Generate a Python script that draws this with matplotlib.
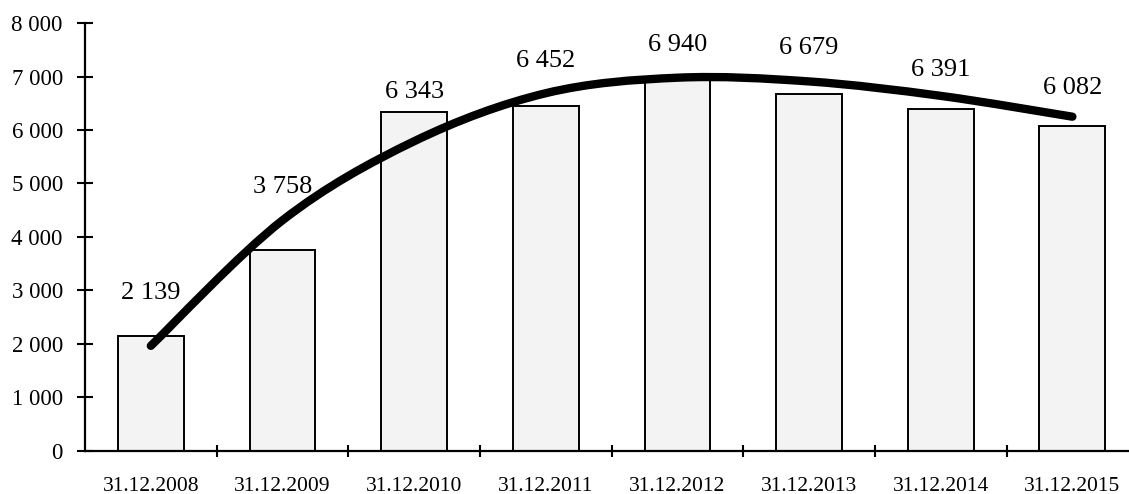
import matplotlib.pyplot as plt
from matplotlib.path import Path
from matplotlib.patches import PathPatch

# data
dates = ['31.12.2008', '31.12.2009', '31.12.2010', '31.12.2011',
         '31.12.2012', '31.12.2013', '31.12.2014', '31.12.2015']
values = [2139, 3758, 6343, 6452, 6940, 6679, 6391, 6082]
# hand-drawn trend curve at each date
trend = [1960, 4310, 5790, 6690, 6980, 6910, 6640, 6250]

# label offsets above bar tops (points)
label_dy = [31, 45, 14, 32, 25, 33, 28, 27]

plt.rcParams['font.family'] = ['Liberation Serif', 'DejaVu Serif']

fig = plt.figure(figsize=(11.29, 4.94), dpi=100)
ax = fig.add_axes([0.0753, 0.088, 0.9247, 0.865])

x = list(range(len(values)))
ax.bar(x, values, width=0.5, color='#f3f3f3', edgecolor='black', linewidth=1.4, zorder=2)

# smooth curve through the read points (Catmull-Rom -> cubic Bezier)
pts = list(zip(x, trend))
verts = [pts[0]]
codes = [Path.MOVETO]
for i in range(len(pts) - 1):
    p0 = pts[i - 1] if i > 0 else pts[i]
    p1 = pts[i]
    p2 = pts[i + 1]
    p3 = pts[i + 2] if i + 2 < len(pts) else pts[i + 1]
    c1 = (p1[0] + (p2[0] - p0[0]) / 6, p1[1] + (p2[1] - p0[1]) / 6)
    c2 = (p2[0] - (p3[0] - p1[0]) / 6, p2[1] - (p3[1] - p1[1]) / 6)
    verts += [c1, c2, p2]
    codes += [Path.CURVE4] * 3
ax.add_patch(PathPatch(Path(verts, codes), fill=False, lw=6, edgecolor='black',
                       capstyle='round', joinstyle='round', zorder=3))

for xi, v, dy in zip(x, values, label_dy):
    ax.annotate(f'{v:,}'.replace(',', ' '), (xi, v), xytext=(0, dy),
                textcoords='offset points', ha='center', va='center', fontsize=19)

ax.set_xlim(-0.5, 7.43)
ax.set_ylim(0, 8000)
ax.set_yticks(range(0, 8001, 1000))
ax.set_yticklabels([f'{t:,}'.replace(',', ' ') for t in range(0, 8001, 1000)], fontsize=16.5)
ax.set_xticks(x)
ax.set_xticklabels(dates, fontsize=15.5)
ax.set_xticks([i + 0.5 for i in range(7)], minor=True)

ax.tick_params(axis='y', direction='inout', length=12, width=1.5, pad=10)
ax.tick_params(axis='x', which='major', length=0, pad=19)
ax.tick_params(axis='x', which='minor', direction='inout', length=9, width=1.5)

for s in ['top', 'right']:
    ax.spines[s].set_visible(False)
for s in ['left', 'bottom']:
    ax.spines[s].set_linewidth(1.6)
ax.spines['left'].set_zorder(4)

fig.savefig('out.png', dpi=100)
